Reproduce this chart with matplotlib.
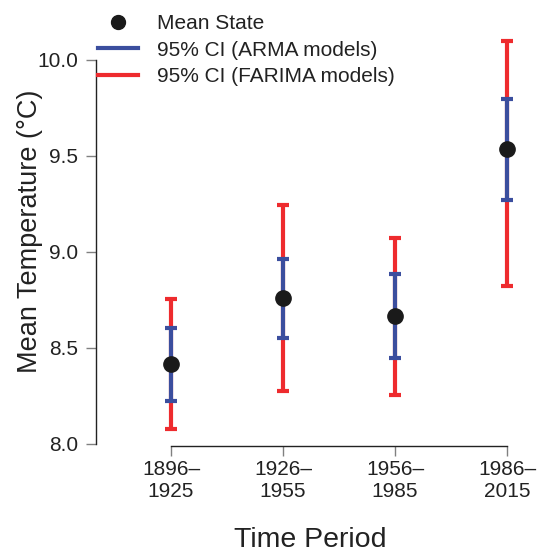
import matplotlib
matplotlib.use("Agg")
import matplotlib.pyplot as plt
from matplotlib.lines import Line2D

plt.rcParams['font.family'] = ['Liberation Sans', 'DejaVu Sans']

periods = ["1896–\n1925", "1926–\n1955", "1956–\n1985", "1986–\n2015"]
mean_state = [8.415, 8.76, 8.665, 9.535]
arma_low = [8.226, 8.552, 8.448, 9.269]
arma_high = [8.606, 8.964, 8.885, 9.798]
farima_low = [8.076, 8.276, 8.255, 8.821]
farima_high = [8.757, 9.245, 9.075, 10.099]
y_ticks = [8.0, 8.5, 9.0, 9.5, 10.0]
y_ticklabels = ["8.0", "8.5", "9.0", "9.5", "10.0"]

red = "#EE2B2E"
blue = "#3B4E9E"

W, H = 539, 552
fig = plt.figure(figsize=(W / 100, H / 100), dpi=100)
ax = fig.add_axes([96 / W, (H - 446) / H, (525 - 96) / W, (446 - 20) / H])

x = list(range(len(periods)))

# FARIMA intervals (outer, red)
for xi, lo, hi in zip(x, farima_low, farima_high):
    ax.plot([xi, xi], [lo, hi], color=red, lw=3, solid_capstyle='butt', zorder=2)
    for yv in (lo, hi):
        ax.plot([xi - 0.055, xi + 0.055], [yv, yv], color=red, lw=3,
                solid_capstyle='butt', zorder=2)

# ARMA intervals (inner, blue)
for xi, lo, hi in zip(x, arma_low, arma_high):
    ax.plot([xi, xi], [lo, hi], color=blue, lw=3, solid_capstyle='butt', zorder=3)
    for yv in (lo, hi):
        ax.plot([xi - 0.055, xi + 0.055], [yv, yv], color=blue, lw=3,
                solid_capstyle='butt', zorder=3)

ax.plot(x, mean_state, 'o', color='#1a1a1a', ms=11, zorder=4)

ax.set_xlim(-0.67, 3.16)
ax.set_ylim(8 - 2 / 192, 8 + 426 / 192 - 2 / 192)

for s in ('top', 'right'):
    ax.spines[s].set_visible(False)
ax.spines['left'].set_bounds(8.0, 10.0)
ax.spines['bottom'].set_bounds(0, 3)
for s in ('left', 'bottom'):
    ax.spines[s].set_linewidth(1.0)
    ax.spines[s].set_color('#222222')

ax.set_yticks(y_ticks)
ax.set_yticklabels(y_ticklabels)
ax.set_xticks(x)
ax.set_xticklabels(periods, linespacing=1.2)
ax.tick_params(axis='both', length=7, width=1.0, color='#808080',
               labelsize=15, labelcolor='#222222', pad=3)
ax.tick_params(axis='y', pad=6)

fig.text(30 / W, 1 - 231 / H, "Mean Temperature (°C)", rotation=90,
         ha='center', va='center', fontsize=19.5, color='#222222')
ax.set_xlabel("Time Period", fontsize=20.5, color='#222222', labelpad=19)

handles = [
    Line2D([], [], marker='o', ls='none', color='#1a1a1a', ms=10),
    Line2D([], [], color=blue, lw=3),
    Line2D([], [], color=red, lw=3),
]
labels = ["Mean State", "95% CI (ARMA models)", "95% CI (FARIMA models)"]
fig.legend(handles, labels, loc='upper left', bbox_to_anchor=(98 / W, 1 - 14 / H),
           frameon=False, fontsize=15, handlelength=1.92, handletextpad=0.9,
           labelspacing=0.36, borderaxespad=0, borderpad=0, labelcolor='#222222')

fig.savefig("out.png", dpi=100)
